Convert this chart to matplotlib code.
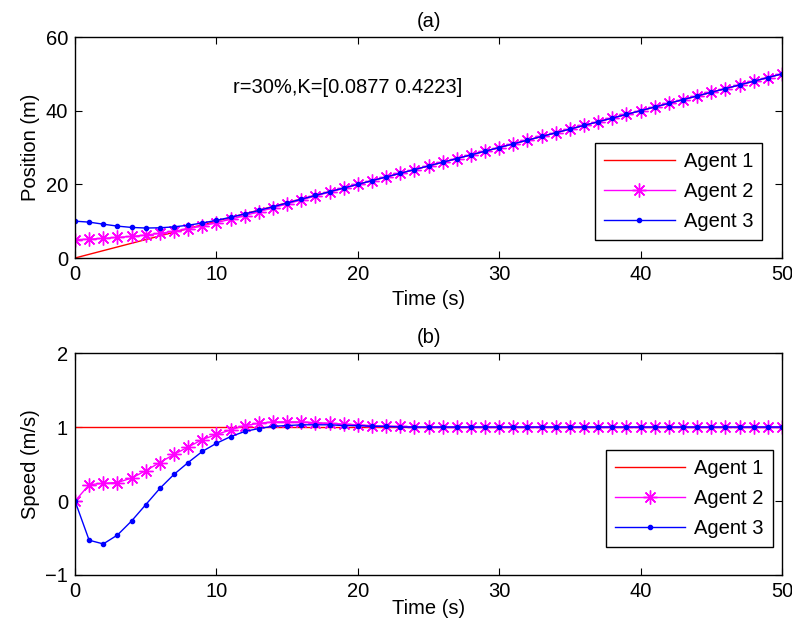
import numpy as np
import matplotlib
matplotlib.use("Agg")
import matplotlib.pyplot as plt

plt.rcParams['font.family'] = ['Liberation Sans', 'DejaVu Sans']
plt.rcParams['font.size'] = 14.5

# sample times (s)
t = list(range(51))

# positions (m)
pos1 = [0, 1, 2, 3, 4, 5, 6, 7, 8, 9,
        10, 11, 12, 13, 14, 15, 16, 17, 18, 19,
        20, 21, 22, 23, 24, 25, 26, 27, 28, 29,
        30, 31, 32, 33, 34, 35, 36, 37, 38, 39,
        40, 41, 42, 43, 44, 45, 46, 47, 48, 49, 50]
pos2 = [5.00, 5.11, 5.34, 5.59, 5.87, 6.23, 6.69, 7.27, 7.95, 8.73,
        9.60, 10.53, 11.52, 12.56, 13.62, 14.69, 15.76, 16.82, 17.88, 18.92,
        19.96, 20.98, 22.00, 23.00, 24.00, 25.00, 26.00, 27.00, 28.00, 29.00,
        30.00, 31.00, 32.00, 33.00, 34.00, 35.00, 36.00, 37.00, 38.00, 39.00,
        40.00, 41.00, 42.00, 43.00, 44.00, 45.00, 46.00, 47.00, 48.00, 49.00, 50.00]
pos3 = [10.00, 9.74, 9.18, 8.66, 8.30, 8.14, 8.20, 8.46, 8.90, 9.50,
        10.23, 11.05, 11.96, 12.92, 13.91, 14.93, 15.96, 16.98, 17.99, 19.00,
        20.00, 21.00, 22.00, 23.00, 24.00, 25.00, 26.00, 27.00, 28.00, 29.00,
        30.00, 31.00, 32.00, 33.00, 34.00, 35.00, 36.00, 37.00, 38.00, 39.00,
        40.00, 41.00, 42.00, 43.00, 44.00, 45.00, 46.00, 47.00, 48.00, 49.00, 50.00]

# speeds (m/s)
spd1 = [1.0] * 51
spd2 = [0.00, 0.22, 0.24, 0.25, 0.31, 0.41, 0.52, 0.63, 0.73, 0.83,
        0.90, 0.96, 1.02, 1.05, 1.07, 1.07, 1.07, 1.06, 1.05, 1.04,
        1.03, 1.02, 1.01, 1.01, 1.00, 1.00, 1.00, 1.00, 1.00, 1.00,
        1.00, 1.00, 1.00, 1.00, 1.00, 1.00, 1.00, 1.00, 1.00, 1.00,
        1.00, 1.00, 1.00, 1.00, 1.00, 1.00, 1.00, 1.00, 1.00, 1.00, 1.00]
spd3 = [0.00, -0.53, -0.58, -0.46, -0.27, -0.05, 0.17, 0.36, 0.52, 0.67,
        0.78, 0.87, 0.94, 0.98, 1.01, 1.02, 1.03, 1.03, 1.03, 1.02,
        1.02, 1.01, 1.01, 1.00, 1.00, 1.00, 1.00, 1.00, 1.00, 1.00,
        1.00, 1.00, 1.00, 1.00, 1.00, 1.00, 1.00, 1.00, 1.00, 1.00,
        1.00, 1.00, 1.00, 1.00, 1.00, 1.00, 1.00, 1.00, 1.00, 1.00, 1.00]

labels = ['Agent 1', 'Agent 2', 'Agent 3']

# eight-armed asterisk like matlab's '*'
star = (8, 2, 0)

fig = plt.figure(figsize=(7.92, 6.35), dpi=100)
ax1 = fig.add_axes([0.0947, 0.5937, 0.8927, 0.348])
ax2 = fig.add_axes([0.0947, 0.0945, 0.8927, 0.3495])


def draw(ax, y1, y2, y3):
    ax.plot(t, y1, color=(1, 0, 0), lw=1.0, label=labels[0])
    ax.plot(t, y2, color=(1, 0, 1), lw=1.0, marker=star, ms=10, mew=1.0, label=labels[1])
    ax.plot(t, y3, color=(0, 0, 1), lw=1.0, marker='.', ms=6, label=labels[2])
    ax.set_xlim(0, 50)
    ax.set_xticks([0, 10, 20, 30, 40, 50])
    ax.tick_params(direction='in', top=True, right=True, length=5, width=0.8, pad=5)
    for s in ax.spines.values():
        s.set_linewidth(1.0)


legend_kw = dict(loc='lower right', handlelength=3.5, numpoints=1, fancybox=False,
                 edgecolor='k', framealpha=1, borderpad=0.45, labelspacing=0.55,
                 handletextpad=0.45, borderaxespad=0)

draw(ax1, pos1, pos2, pos3)
ax1.set_ylim(0, 60)
ax1.set_yticks([0, 20, 40, 60])
ax1.set_xlabel('Time (s)', labelpad=4.5)
ax1.set_ylabel('Position (m)', labelpad=4)
ax1.set_title('(a)', fontsize=14.5, pad=7)
ax1.text(11.2, 46.4, 'r=30%,K=[0.0877 0.4223]', ha='left', va='center')
ax1.legend(bbox_to_anchor=(0.972, 0.081), **legend_kw)

draw(ax2, spd1, spd2, spd3)
ax2.set_ylim(-1, 2)
ax2.set_yticks([-1, 0, 1, 2])
ax2.set_xlabel('Time (s)', labelpad=-1.5)
ax2.set_ylabel('Speed (m/s)', labelpad=4)
ax2.set_title('(b)', fontsize=14.5, pad=7)
ax2.legend(bbox_to_anchor=(0.987, 0.126), **legend_kw)

fig.savefig('out.png', dpi=100)
